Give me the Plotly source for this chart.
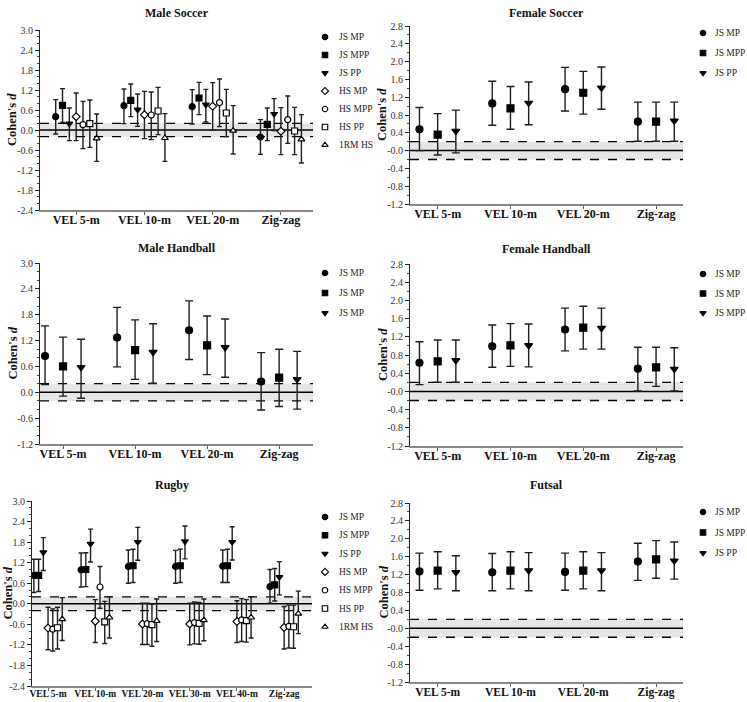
import plotly.graph_objects as go

W, H = 747, 702

# ---------------- data ----------------
cats4 = ["VEL 5-m", "VEL 10-m", "VEL 20-m", "Zig-zag"]
cats_rugby = ["VEL 5-m", "VEL 10-m", "VEL 20-m", "VEL 30-m", "VEL 40-m", "Zig-zag"]

series7 = ["JS MP", "JS MPP", "JS PP", "HS MP", "HS MPP", "HS PP", "1RM HS"]
series_fs = ["JS MP", "JS MPP", "JS PP"]
series_mh = ["JS MP", "JS MP", "JS MP"]
series_fh = ["JS MP", "JS MP", "JS MPP"]
series_fu = ["JS MP", "JS MPP", "JS PP"]

# Male soccer (series x category)
male_soccer_d = [
    [0.40, 0.73, 0.70, -0.21],
    [0.74, 0.89, 0.96, 0.17],
    [0.19, 0.61, 0.76, 0.48],
    [0.40, 0.46, 0.71, -0.04],
    [0.16, 0.45, 0.82, 0.31],
    [0.19, 0.57, 0.51, -0.03],
    [-0.25, -0.24, -0.02, -0.28],
]
male_soccer_hi = [
    [0.91, 1.23, 1.21, 0.31],
    [1.24, 1.38, 1.43, 0.66],
    [0.66, 1.08, 1.22, 0.94],
    [1.11, 1.16, 1.42, 0.67],
    [0.86, 1.14, 1.53, 1.02],
    [0.90, 1.28, 1.22, 0.68],
    [0.48, 0.49, 0.73, 0.46],
]
male_soccer_lo = [
    [-0.12, 0.19, 0.18, -0.73],
    [0.23, 0.40, 0.46, -0.32],
    [-0.32, 0.11, 0.24, -0.02],
    [-0.32, -0.26, 0.00, -0.74],
    [-0.56, -0.29, 0.10, -0.40],
    [-0.52, -0.14, -0.20, -0.74],
    [-0.94, -0.94, -0.72, -0.99],
]

# Female soccer
female_soccer_d = [
    [0.48, 1.06, 1.38, 0.65],
    [0.36, 0.95, 1.30, 0.65],
    [0.44, 1.07, 1.41, 0.67],
]
female_soccer_hi = [
    [0.97, 1.56, 1.87, 1.09],
    [0.83, 1.44, 1.78, 1.09],
    [0.91, 1.54, 1.88, 1.09],
]
female_soccer_lo = [
    [0.00, 0.57, 0.89, 0.21],
    [-0.10, 0.48, 0.82, 0.21],
    [-0.05, 0.58, 0.93, 0.21],
]

# Male handball
male_handball_d = [
    [0.84, 1.27, 1.44, 0.25],
    [0.60, 0.98, 1.09, 0.34],
    [0.58, 0.93, 1.04, 0.30],
]
male_handball_hi = [
    [1.54, 1.97, 2.12, 0.92],
    [1.28, 1.68, 1.77, 1.00],
    [1.23, 1.59, 1.70, 0.95],
]
male_handball_lo = [
    [0.18, 0.59, 0.76, -0.41],
    [-0.09, 0.30, 0.41, -0.33],
    [-0.14, 0.21, 0.35, -0.39],
]

# Female handball
female_handball_d = [
    [0.63, 0.99, 1.36, 0.50],
    [0.66, 1.01, 1.40, 0.53],
    [0.68, 1.01, 1.39, 0.49],
]
female_handball_hi = [
    [1.09, 1.46, 1.83, 0.97],
    [1.13, 1.49, 1.87, 0.97],
    [1.13, 1.48, 1.83, 0.96],
]
female_handball_lo = [
    [0.15, 0.53, 0.89, 0.01],
    [0.20, 0.55, 0.93, 0.11],
    [0.20, 0.54, 0.93, 0.01],
]

# Rugby
rugby_d = [
    [0.83, 0.99, 1.09, 1.09, 1.10, 0.50],
    [0.83, 1.00, 1.11, 1.11, 1.11, 0.55],
    [1.50, 1.75, 1.80, 1.82, 1.80, 0.78],
    [-0.71, -0.51, -0.59, -0.59, -0.52, -0.69],
    [-0.74, 0.49, -0.58, -0.55, -0.47, -0.66],
    [-0.70, -0.53, -0.61, -0.57, -0.49, -0.67],
    [-0.45, -0.40, -0.50, -0.48, -0.40, -0.29],
]
rugby_hi = [
    [1.30, 1.48, 1.57, 1.56, 1.57, 1.00],
    [1.30, 1.49, 1.59, 1.59, 1.59, 1.03],
    [1.93, 2.18, 2.23, 2.27, 2.25, 1.23],
    [-0.10, 0.12, 0.02, 0.02, 0.09, -0.08],
    [-0.15, 1.09, 0.02, 0.05, 0.15, -0.04],
    [-0.10, 0.07, -0.01, 0.04, 0.12, -0.04],
    [0.18, 0.21, 0.14, 0.14, 0.21, 0.37],
]
rugby_lo = [
    [0.33, 0.49, 0.60, 0.60, 0.62, 0.02],
    [0.36, 0.50, 0.62, 0.62, 0.62, 0.08],
    [0.97, 1.22, 1.27, 1.31, 1.28, 0.26],
    [-1.34, -1.13, -1.19, -1.20, -1.13, -1.32],
    [-1.38, -0.13, -1.19, -1.17, -1.10, -1.29],
    [-1.32, -1.16, -1.24, -1.18, -1.12, -1.30],
    [-1.07, -1.00, -1.10, -1.08, -1.00, -0.87],
]

# Futsal
futsal_d = [
    [1.27, 1.25, 1.26, 1.49],
    [1.29, 1.29, 1.29, 1.54],
    [1.25, 1.29, 1.29, 1.51],
]
futsal_hi = [
    [1.68, 1.67, 1.68, 1.90],
    [1.71, 1.71, 1.71, 1.96],
    [1.62, 1.69, 1.69, 1.93],
]
futsal_lo = [
    [0.85, 0.84, 0.85, 1.07],
    [0.88, 0.88, 0.88, 1.12],
    [0.84, 0.84, 0.84, 1.10],
]

# y tick labels
yticks_male = [-2.4, -1.8, -1.2, -0.6, 0.0, 0.6, 1.2, 1.8, 2.4, 3.0]
ylabels_male = ["-2.4", "-1.8", "-1.2", "-0.6", "0.0", "0.6", "1.2", "1.8", "2.4", "3.0"]
yticks_mh = [-1.2, -0.6, 0.0, 0.6, 1.2, 1.8, 2.4, 3.0]
ylabels_mh = ["-1.2", "-0.6", "0.0", "0.6", "1.2", "1.8", "2.4", "3.0"]
yticks_female = [-1.2, -0.8, -0.4, 0.0, 0.4, 0.8, 1.2, 1.6, 2.0, 2.4, 2.8]
ylabels_female = ["-1.2", "-0.8", "-0.4", "-0.0", "0.4", "0.8", "1.2", "1.6", "2.0", "2.4", "2.8"]

# ---------------- styles ----------------
FONT = "Liberation Serif"
SYMBOLS_7 = ["circle", "square", "triangle-down", "diamond", "circle", "square", "triangle-up"]
FILLS_7 = ["black", "black", "black", "white", "white", "white", "white"]
SYMBOLS_3 = ["circle", "square", "triangle-down"]
FILLS_3 = ["black", "black", "black"]


def px_x(p):
    return p / W


def px_y(p):
    return 1 - p / H


panels = [
    dict(title="Male Soccer", cats=cats4, names=series7, d=male_soccer_d, hi=male_soccer_hi,
         lo=male_soccer_lo, step=0.1, xr=[-0.53, 3.47], yr=[-2.4, 3.0], yt=yticks_male,
         yl=ylabels_male, box=(40, 313, 30, 210), leg=(325, 337, 37, 18.0), title_y=13, ytx=12,
         cap=2.5, ms=6, xfs=12, sym=SYMBOLS_7, fill=FILLS_7),
    dict(title="Female Soccer", cats=cats4, names=series_fs, d=female_soccer_d,
         hi=female_soccer_hi, lo=female_soccer_lo, step=0.25, xr=[-0.38, 3.37],
         yr=[-1.2, 2.8], yt=yticks_female, yl=ylabels_female, box=(410, 683, 26, 204),
         leg=(703, 713, 33, 20.0), title_y=13, ytx=382, cap=4, ms=7, xfs=12,
         sym=SYMBOLS_3, fill=FILLS_3),
    dict(title="Male Handball", cats=cats4, names=series_mh, d=male_handball_d,
         hi=male_handball_hi, lo=male_handball_lo, step=0.25, xr=[-0.32, 3.47],
         yr=[-1.2, 3.0], yt=yticks_mh, yl=ylabels_mh, box=(40, 313, 263, 444),
         leg=(325, 337, 273, 20.0), title_y=248, ytx=12, cap=4, ms=7, xfs=12,
         sym=SYMBOLS_3, fill=FILLS_3),
    dict(title="Female Handball", cats=cats4, names=series_fh, d=female_handball_d,
         hi=female_handball_hi, lo=female_handball_lo, step=0.25, xr=[-0.38, 3.37],
         yr=[-1.2, 2.8], yt=yticks_female, yl=ylabels_female, box=(410, 683, 264, 446),
         leg=(703, 713, 274, 19.5), title_y=249, ytx=383, cap=4, ms=7, xfs=12,
         sym=SYMBOLS_3, fill=FILLS_3),
    dict(title="Rugby", cats=cats_rugby, names=series7, d=rugby_d, hi=rugby_hi, lo=rugby_lo,
         step=0.1, xr=[-0.34, 5.59], yr=[-2.4, 3.0], yt=yticks_male, yl=ylabels_male,
         box=(32, 312, 501, 686), leg=(325, 337, 517, 18.3), title_y=485, ytx=7, cap=2.5, ms=6,
         xfs=9.5, sym=SYMBOLS_7, fill=FILLS_7),
    dict(title="Futsal", cats=cats4, names=series_fu, d=futsal_d, hi=futsal_hi, lo=futsal_lo,
         step=0.25, xr=[-0.38, 3.37], yr=[-1.2, 2.8], yt=yticks_female, yl=ylabels_female,
         box=(410, 683, 503, 682), leg=(703, 713, 512, 20.5), title_y=485, ytx=383, cap=4, ms=7,
         xfs=11.5, sym=SYMBOLS_3, fill=FILLS_3),
]

fig = go.Figure()
layout = dict(
    width=W, height=H, margin=dict(l=0, r=0, t=0, b=0, autoexpand=False),
    paper_bgcolor="white", plot_bgcolor="rgba(0,0,0,0)",
    font=dict(family=FONT, color="#222"),
    showlegend=False,
)
shapes = []
annotations = []

leg_x, leg_y, leg_sym, leg_fill = [], [], [], []

for i, p in enumerate(panels):
    n = i + 1
    xs = "" if n == 1 else str(n)
    xa, ya = "x" + xs, "y" + xs
    ns = len(p["names"])
    for s in range(ns):
        off = (s - (ns - 1) / 2) * p["step"]
        xvals = [c + off for c in range(len(p["cats"]))]
        up = [h - v for h, v in zip(p["hi"][s], p["d"][s])]
        dn = [v - l for v, l in zip(p["d"][s], p["lo"][s])]
        fig.add_trace(go.Scatter(
            x=xvals, y=p["d"][s], mode="markers", name=p["names"][s],
            xaxis=xa, yaxis=ya, showlegend=False,
            marker=dict(symbol=p["sym"][s], size=p["ms"], color=p["fill"][s],
                        line=dict(color="black", width=1.2)),
            error_y=dict(type="data", symmetric=False, array=up, arrayminus=dn,
                         color="#1e1e1e", thickness=1.4, width=p["cap"]),
        ))
    l, r, t, b = p["box"]
    layout["xaxis" + xs] = dict(
        domain=[px_x(l), px_x(r)], anchor=ya, range=p["xr"],
        tickmode="array", tickvals=list(range(len(p["cats"]))),
        ticktext=["<b>%s</b>" % c for c in p["cats"]], tickangle=0,
        tickfont=dict(family=FONT, size=p["xfs"], color="#111"),
        ticks="outside", ticklen=3, tickcolor="#666", ticklabelstandoff=-5,
        showline=True, linecolor="#888", linewidth=2, automargin=False,
        showgrid=False, zeroline=False, fixedrange=True,
    )
    layout["yaxis" + xs] = dict(
        domain=[px_y(b), px_y(t)], anchor=xa, range=p["yr"],
        tickmode="array", tickvals=p["yt"], ticktext=p["yl"],
        tickfont=dict(family=FONT, size=10, color="#333"),
        ticks="outside", ticklen=4, tickcolor="#222",
        minor=dict(ticks="outside", ticklen=2, tickcolor="#444", dtick=0.2, tick0=0),
        showline=True, linecolor="#222", linewidth=1, automargin=False,
        showgrid=False, zeroline=False, fixedrange=True,
    )
    # trivial-effect band and threshold lines
    shapes.append(dict(type="rect", xref=xa + " domain", yref=ya, x0=0, x1=1, y0=-0.2, y1=0.2,
                       fillcolor="#e6e6e6", line=dict(width=0), layer="below"))
    for yv in (-0.2, 0.2):
        shapes.append(dict(type="line", xref=xa + " domain", yref=ya, x0=0, x1=1, y0=yv, y1=yv,
                           line=dict(color="black", width=1.3, dash="dash"), layer="below"))
    shapes.append(dict(type="line", xref=xa + " domain", yref=ya, x0=0, x1=1, y0=0, y1=0,
                       line=dict(color="black", width=1.5), layer="below"))
    # title
    annotations.append(dict(text="<b>%s</b>" % p["title"], xref="paper", yref="paper",
                            x=px_x((l + r) / 2), y=px_y(p["title_y"]), showarrow=False,
                            xanchor="center", yanchor="middle",
                            font=dict(family=FONT, size=12, color="#111")))
    # y-axis title
    annotations.append(dict(text="<b>Cohen's <i>d</i></b>", xref="paper", yref="paper",
                            x=px_x(p["ytx"]), y=px_y((t + b) / 2), showarrow=False,
                            textangle=-90, xanchor="center", yanchor="middle",
                            font=dict(family=FONT, size=12.5, color="#111")))
    # manual legend
    mx, tx, y0, dy = p["leg"]
    for s in range(ns):
        yy = y0 + s * dy
        leg_x.append(mx)
        leg_y.append(yy)
        leg_sym.append(p["sym"][s])
        leg_fill.append(p["fill"][s])
        annotations.append(dict(text=p["names"][s], xref="paper", yref="paper",
                                x=px_x(tx), y=px_y(yy), showarrow=False,
                                xanchor="left", yanchor="middle",
                                font=dict(family=FONT, size=9.5, color="#222")))

# overlay pixel-space axis for legend symbols
fig.add_trace(go.Scatter(
    x=leg_x, y=leg_y, mode="markers", xaxis="x7", yaxis="y7", showlegend=False,
    hoverinfo="skip",
    marker=dict(symbol=leg_sym, size=5.5, color=leg_fill, line=dict(color="black", width=1.1)),
))
layout["xaxis7"] = dict(domain=[0, 1], anchor="y7", range=[0, W], visible=False,
                        fixedrange=True, automargin=False)
layout["yaxis7"] = dict(domain=[0, 1], anchor="x7", range=[H, 0], visible=False,
                        fixedrange=True, automargin=False)

layout["shapes"] = shapes
layout["annotations"] = annotations
fig.update_layout(**layout)
fig.write_html("out.html",
               config={"displayModeBar": False},
               post_script="document.body.style.margin='0';"
                           "document.body.style.overflow='hidden';")
